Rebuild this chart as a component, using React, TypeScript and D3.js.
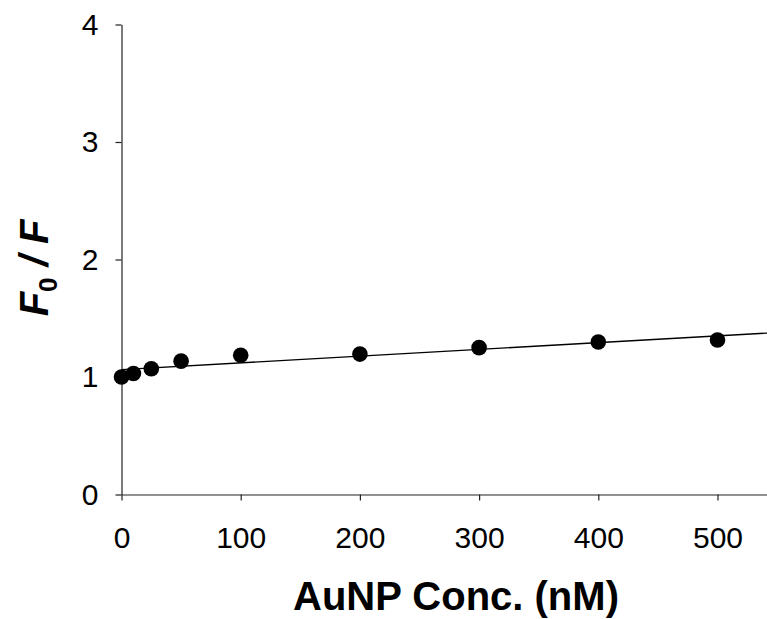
import React, { useEffect, useRef } from "react";
import * as d3 from "d3";

// AuNP concentration (nM) and measured F0/F
const conc = [0, 10, 25, 50, 100, 200, 300, 400, 500];
const ratio = [1.0, 1.03, 1.07, 1.135, 1.185, 1.195, 1.25, 1.298, 1.315];

// linear fit
const fitSlope = 0.000574;
const fitIntercept = 1.063;

const xTicks = [0, 100, 200, 300, 400, 500];
const yTicks = [0, 1, 2, 3, 4];

const W = 767;
const H = 619;
const FONT = "'Liberation Sans', Arial, sans-serif";

export default function App() {
  const ref = useRef<SVGSVGElement>(null);

  useEffect(() => {
    const svg = d3.select(ref.current);
    svg.selectAll("*").remove();

    const x = d3.scaleLinear().domain([0, 550]).range([121.5, 121.5 + 550 * 1.192]);
    const y = d3.scaleLinear().domain([0, 4]).range([494.5, 24.5]);

    // fit line
    svg.append("line")
      .attr("x1", x(0))
      .attr("y1", y(fitIntercept))
      .attr("x2", x(550))
      .attr("y2", y(fitIntercept + fitSlope * 550))
      .attr("stroke", "#000")
      .attr("stroke-width", 1.3);

    const xAxis = svg.append("g")
      .attr("transform", `translate(0,${y(0)})`)
      .call(d3.axisBottom(x).tickValues(xTicks).tickSize(6).tickSizeOuter(0).tickPadding(26).tickFormat(d3.format("d")));
    const yAxis = svg.append("g")
      .attr("transform", `translate(${x(0)},0)`)
      .call(d3.axisLeft(y).tickValues(yTicks).tickSize(6).tickSizeOuter(0).tickPadding(17).tickFormat(d3.format("d")));

    [xAxis, yAxis].forEach(g => {
      g.attr("font-family", FONT).attr("font-size", 30);
      g.selectAll("text").attr("fill", "#000");
      g.selectAll("line").attr("stroke", "#222").attr("stroke-width", 1.2);
      g.select(".domain").attr("stroke", "#222").attr("stroke-width", 1.2);
    });

    // points
    svg.append("g")
      .selectAll("circle")
      .data(conc)
      .enter().append("circle")
      .attr("cx", (d) => x(d))
      .attr("cy", (d, i) => y(ratio[i]))
      .attr("r", 7.8)
      .attr("fill", "#000");

    svg.append("text")
      .attr("x", 456)
      .attr("y", 610)
      .attr("text-anchor", "middle")
      .attr("font-family", FONT)
      .attr("font-weight", "bold")
      .attr("font-size", 40)
      .text("AuNP Conc. (nM)");

    const yl = svg.append("text")
      .attr("transform", "translate(48,268) rotate(-90)")
      .attr("text-anchor", "middle")
      .attr("font-family", FONT)
      .attr("font-weight", "bold")
      .attr("font-style", "italic")
      .attr("font-size", 40);
    yl.append("tspan").text("F");
    yl.append("tspan").attr("font-size", 26).attr("font-style", "normal").attr("dy", 9).text("0");
    yl.append("tspan").attr("dy", -9).text(" / F");
  }, []);

  return (
    <svg
      ref={ref}
      width={W}
      height={H}
      style={{ position: "absolute", left: 0, top: 0, background: "#fff" }}
    />
  );
}
